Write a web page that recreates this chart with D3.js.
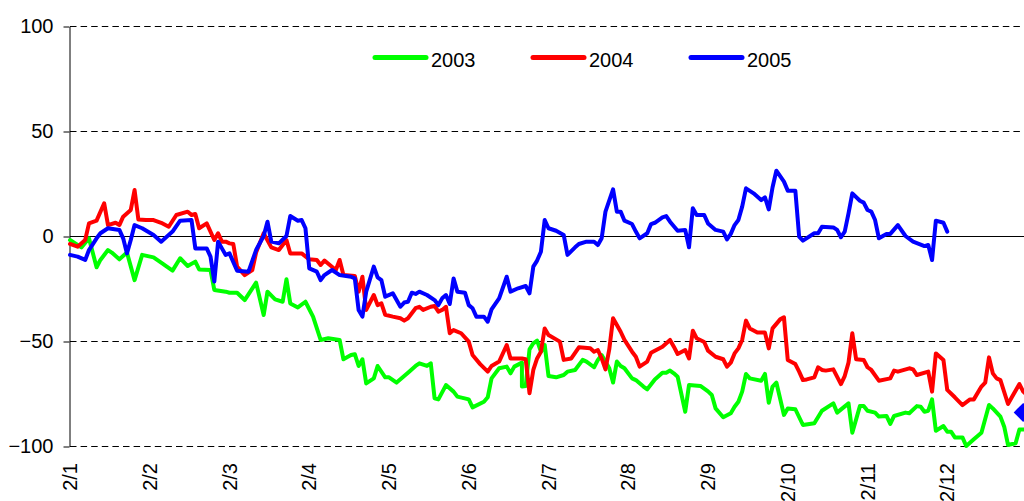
<!DOCTYPE html>
<html><head><meta charset="utf-8">
<script src="https://cdn.jsdelivr.net/npm/d3@7"></script>
<style>
body{margin:0;background:#fff;}
svg{display:block;font-family:"Liberation Sans",Arial,sans-serif;}
</style>
</head><body>
<svg id="c" width="1024" height="501"></svg>
<script>
const yearNames = ["2003", "2004", "2005"];
const colors = ["#00ff00", "#ff0000", "#0000ff"];
const xTickLabels = ["2/1","2/2","2/3","2/4","2/5","2/6","2/7","2/8","2/9","2/10","2/11","2/12"];
const xTickDays = [0,21,42,63,84,105,126,147,168,189,210,231];
const yTicks = [-100,-50,0,50,100];

// [trading-day index, value]
const s2003 = [[0,-1.9],[3,-5.4],[5,-1.1],[7,-14.9],[8,-11.4],[10,-6.7],[11,-7.9],[13,-11.1],[15,-7.9],[17,-21],[19,-9],[22,-10.2],[24,-12.7],[27,-16.5],[29,-10.6],[31,-14.3],[33,-12.2],[34,-15.9],[37,-16.2],[38,-25.7],[41,-26.5],[42,-27],[44,-27],[46,-30.5],[49,-22.2],[51,-37.6],[52,-26.5],[54,-30.2],[56,-31.3],[57,-20.6],[58,-32.1],[60,-34],[62,-31.3],[64,-38.4],[66,-49.5],[68,-48.7],[71,-49.5],[72,-58.7],[74,-56.7],[75,-56.3],[76,-61.9],[77,-58.7],[78,-70.2],[80,-67.8],[81,-61.9],[83,-67.3],[84,-67.3],[86,-69.8],[88,-66.7],[89,-65.1],[91,-61.9],[92,-60.6],[94,-61.9],[95,-60.6],[96,-77.3],[97,-77.8],[99,-71],[101,-74.1],[102,-76.5],[105,-77.8],[106,-81.6],[109,-78.9],[110,-76.8],[111,-67.8],[113,-63],[115,-62.2],[116,-65.4],[117,-62.2],[119,-60.3],[119,-71.7],[120,-71.4],[121,-54],[122,-51.1],[123,-49.8],[124,-55.1],[125,-51.9],[126,-66.7],[128,-67.3],[130,-66.2],[131,-64.6],[133,-63.8],[135,-59],[136,-59.8],[138,-62.5],[139,-59],[140,-56.7],[142,-63],[143,-69.8],[144,-59.8],[145,-61.9],[146,-63],[148,-67.8],[149,-68.6],[151,-71.7],[152,-73],[154,-68.3],[156,-65.1],[157,-65.1],[158,-64.1],[159,-65.4],[160,-67],[162,-83.7],[163,-71],[166,-71.4],[168,-74],[169,-75.7],[170,-82.1],[172,-86.3],[174,-84.4],[175,-81.3],[176,-78.9],[177,-74.1],[178,-65.7],[179,-67.8],[182,-68.9],[183,-65.7],[184,-79.4],[185,-71.7],[186,-69.8],[188,-85.2],[189,-82.1],[191,-82.5],[193,-90],[196,-89.2],[198,-83.2],[201,-79.7],[202,-84.1],[205,-79.7],[206,-93.7],[208,-81],[209,-81],[210,-83.2],[212,-84.1],[213,-86],[215,-85.7],[216,-89.5],[217,-85.7],[220,-84.1],[221,-84.4],[223,-81],[224,-81.3],[225,-83.7],[226,-83.2],[227,-77.8],[228,-92.7],[230,-90.5],[231,-93.2],[232,-93.2],[233,-95.9],[235,-95.9],[236,-100],[238,-96.8],[240,-93.7],[242,-80.5],[243,-82.1],[245,-86],[246,-90.8],[247,-99.5],[249,-98.7],[250,-92.1],[252,-92.1]];

const s2004 = [[0,-3.8],[2,-5.1],[4,-1.9],[5,6],[7,7.3],[9,15.6],[10,5.2],[12,6.3],[13,5.2],[14,9.2],[16,12.4],[17,21.9],[18,7.9],[20,7.6],[22,7.6],[24,6.3],[26,4.4],[28,10],[31,11.6],[32,10],[33,10.5],[34,3.7],[36,6],[38,-1.9],[39,1.3],[40,-2.7],[41,-2.7],[42,-3.5],[43,-3.8],[44,-14.6],[46,-18.6],[48,-16.2],[49,-7.9],[51,1.3],[53,-5.4],[55,-6.7],[57,-1.9],[58,-8.3],[61,-8.3],[63,-11.1],[65,-11.4],[66,-13.8],[67,-11.7],[70,-16.2],[71,-11.4],[72,-18.6],[75,-19],[76,-26.5],[77,-19.4],[78,-35.2],[80,-28.1],[81,-32.9],[82,-32.1],[83,-37.5],[85,-38.4],[87,-39.2],[88,-40.3],[89,-39.2],[91,-34.4],[92,-33.7],[93,-35.2],[95,-33.7],[96,-33.3],[97,-36],[98,-35.2],[99,-33.7],[100,-46.3],[101,-44.8],[103,-46.3],[105,-50.3],[106,-56.7],[108,-61],[110,-64.6],[111,-61.9],[113,-59.8],[115,-51.9],[116,-58.3],[119,-58.3],[120,-58.7],[121,-74.9],[122,-63.8],[123,-58.3],[124,-55.1],[125,-44],[126,-47.1],[129,-50.3],[130,-59],[132,-58.3],[134,-53],[137,-53.5],[138,-55.1],[139,-54.3],[140,-58.3],[141,-63.5],[142,-54],[143,-39.2],[145,-45.6],[146,-49.5],[148,-55.1],[149,-57.5],[150,-62.2],[152,-59.8],[153,-55.6],[156,-52.7],[158,-49.5],[159,-52.7],[160,-56.2],[162,-54.3],[163,-58.3],[164,-45.1],[165,-48.7],[167,-50.5],[168,-54.6],[170,-57.5],[172,-58.7],[173,-62.2],[174,-60.3],[175,-55.9],[176,-53.5],[177,-49.5],[178,-40.3],[179,-44],[181,-46],[183,-46],[184,-53.5],[185,-44],[187,-39.7],[188,-38.7],[189,-59],[191,-61],[192,-64.6],[193,-68.6],[194,-68.3],[196,-67.3],[197,-62.5],[198,-63.8],[199,-64.1],[201,-63.5],[203,-70.5],[204,-66.7],[205,-60.3],[206,-46.3],[207,-58.7],[209,-59],[210,-62.5],[211,-63.8],[213,-68.9],[216,-67.8],[217,-64.1],[218,-64.6],[221,-63],[222,-63.5],[223,-66.2],[226,-64.6],[227,-74.1],[228,-55.9],[230,-59],[231,-73.3],[233,-76.8],[235,-80.5],[237,-77.8],[238,-77.8],[240,-71.7],[241,-69.8],[242,-57.8],[243,-65.4],[244,-67.8],[245,-68.6],[247,-80],[248,-76.8],[250,-70.5],[251,-74.1],[252,-75.7]];

const s2005 = [[0,-9],[2,-9.8],[4,-11.4],[5,-6.7],[7,-1.1],[8,1.3],[10,3.7],[13,2.9],[14,-1.1],[15,-8.3],[16,-1.9],[17,5.2],[19,3.7],[22,0.5],[24,-2.7],[27,2.1],[29,7.3],[32,7.6],[33,-5.9],[36,-5.9],[37,-9.8],[38,-21.7],[39,-2.7],[40,-5.9],[41,-9],[42,-8.3],[44,-16.5],[47,-17],[49,-6.7],[51,0],[52,6.8],[53,-2.7],[55,-3.5],[57,0],[58,9.5],[60,7.3],[61,7.6],[62,3.7],[63,-15.4],[65,-17],[66,-21],[67,-18.6],[69,-16.2],[71,-18.6],[74,-19.4],[75,-20.2],[76,-35.2],[77,-38.4],[78,-26.5],[80,-14.6],[81,-19.7],[82,-21],[83,-28.9],[85,-27.3],[87,-33.7],[88,-31.7],[89,-31.3],[90,-27],[91,-27.6],[92,-26.5],[94,-28.1],[96,-30.5],[97,-32.9],[98,-29.7],[99,-28.1],[100,-32.4],[101,-20.2],[102,-26.5],[104,-27],[105,-32.9],[106,-34.4],[107,-38.4],[109,-38.4],[110,-40.8],[111,-34.9],[113,-29.7],[115,-19.4],[116,-26.5],[118,-24.9],[120,-23.8],[121,-27.3],[122,-14.6],[123,-11.7],[124,-7.5],[125,7.6],[126,3.7],[128,2.5],[130,0.5],[131,-9],[133,-5.4],[134,-3.8],[136,-2.7],[138,-2.7],[139,-4.3],[140,-1.1],[141,11.6],[143,22.2],[144,11.6],[145,11.6],[146,7.3],[148,5.7],[149,2.1],[150,-1.1],[152,1.3],[153,5.7],[154,6.3],[156,8.9],[157,9.5],[158,6.8],[160,2.5],[162,2.9],[163,-5.4],[164,13.2],[165,10],[167,10],[168,6],[170,2.9],[172,2.1],[173,-1.6],[174,1],[175,5.2],[176,7.6],[177,14],[178,22.7],[180,20.3],[182,17.1],[183,18.4],[184,12.7],[185,23.2],[186,31.1],[188,25.9],[189,21.6],[191,21.6],[192,-0.3],[193,-2.2],[196,1.3],[197,1.3],[198,4.4],[201,4.1],[202,2.9],[203,-0.6],[204,2.1],[205,10.8],[206,20.3],[208,16.8],[209,15.9],[210,12.4],[211,11.6],[212,7.6],[213,-1.1],[215,1],[216,1],[218,5.2],[220,0],[222,-2.7],[225,-4.8],[226,-4.3],[227,-11.4],[228,7.3],[230,6.3],[231,2.1]];

const marker2005 = [251, -84];

const series = [s2003, s2004, s2005];

const W = 1024, H = 501;
const svg = d3.select("#c");
const x = d3.scaleLinear().domain([0, 252]).range([70, 1027]);
const y = d3.scaleLinear().domain([-100, 100]).range([446, 26]);

// gridlines
svg.append("g").selectAll("line").data(yTicks).join("line")
  .attr("x1", 70).attr("x2", W)
  .attr("y1", d => Math.round(y(d)) + 0.5).attr("y2", d => Math.round(y(d)) + 0.5)
  .attr("stroke", "#000").attr("stroke-width", 1)
  .attr("stroke-dasharray", d => d === 0 ? null : "6.5,4.1");

// y axis
const yAxis = svg.append("g").attr("transform", "translate(69.5,0.5)")
  .call(d3.axisLeft(y).tickValues(yTicks).tickSize(6).tickSizeOuter(0).tickPadding(10));
yAxis.select(".domain").attr("stroke", "#000");
yAxis.selectAll(".tick line").attr("stroke", "#000");
yAxis.selectAll(".tick text").attr("font-size", 20).attr("fill", "#000")
  .attr("font-family", '"Liberation Sans",Arial,sans-serif');

// x labels
svg.append("g").selectAll("text").data(xTickDays).join("text")
  .attr("transform", d => `translate(${x(d)},463) rotate(-90)`)
  .attr("text-anchor", "end").attr("dy", "0.35em")
  .attr("font-size", 20).attr("fill", "#000")
  .text((d, i) => xTickLabels[i]);

// lines
svg.append("defs").append("clipPath").attr("id", "clip")
  .append("rect").attr("x", 0).attr("y", 0).attr("width", W).attr("height", H);
const line = d3.line().x(d => x(d[0])).y(d => y(d[1]));
svg.append("g").attr("clip-path", "url(#clip)").selectAll("path").data(series).join("path")
  .attr("d", line).attr("fill", "none")
  .attr("stroke", (d, i) => colors[i]).attr("stroke-width", 4)
  .attr("stroke-linejoin", "round").attr("stroke-linecap", "round");

// diamond marker
const mx = x(marker2005[0]), my = y(marker2005[1]), r = 9.5;
svg.append("path")
  .attr("d", `M${mx},${my - r}L${mx + r},${my}L${mx},${my + r}L${mx - r},${my}Z`)
  .attr("fill", colors[2]);

// legend
const legX = [375, 533, 691];
const lg = svg.append("g").selectAll("g").data(yearNames).join("g")
  .attr("transform", (d, i) => `translate(${legX[i]},0)`);
lg.append("line").attr("x1", 0).attr("x2", 51).attr("y1", 57.5).attr("y2", 57.5)
  .attr("stroke", (d, i) => colors[i]).attr("stroke-width", 5).attr("stroke-linecap", "round");
lg.append("text").attr("x", 56).attr("y", 67).attr("font-size", 20).attr("fill", "#000").text(d => d);
</script>
</body></html>
